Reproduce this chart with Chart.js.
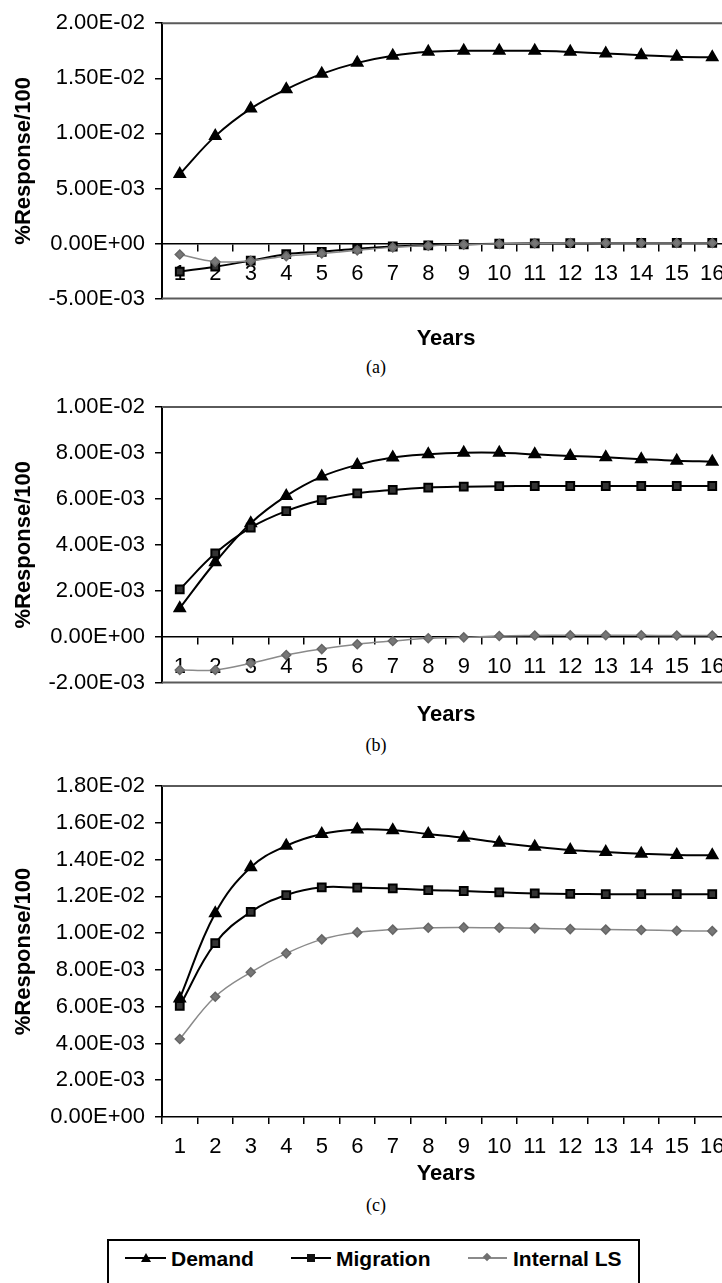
<!DOCTYPE html>
<html>
<head>
<meta charset="utf-8">
<script src="https://cdn.jsdelivr.net/npm/chart.js@4.4.1/dist/chart.umd.min.js"></script>
<style>
  html, body { margin: 0; padding: 0; background: #fff; }
  body { width: 722px; height: 1283px; overflow: hidden; position: relative; font-family: "Liberation Sans", Arial, sans-serif; }
  canvas { position: absolute; left: 0; }
  .cap { position: absolute; left: 0; width: 752px; text-align: center; font-family: "Liberation Serif", "Times New Roman", serif; font-size: 18px; line-height: 20px; color: #000; }
  #legend { position: absolute; left: 107px; top: 1239px; width: 533px; height: 70px; border: 2px solid #000; box-sizing: border-box; }
  .ln { position: absolute; height: 2px; background: #000; }
  .txt { position: absolute; top: 1247px; font-weight: bold; font-size: 21px; line-height: 24px; color: #000; }
</style>
</head>
<body>
<canvas id="chartA" width="740" height="352" style="top:0px"></canvas>
<canvas id="chartB" width="740" height="348" style="top:380px"></canvas>
<canvas id="chartC" width="740" height="427" style="top:760px"></canvas>

<div class="cap" style="top:357px">(a)</div>
<div class="cap" style="top:735px">(b)</div>
<div class="cap" style="top:1195px">(c)</div>

<div id="legend"></div>
<div class="ln" style="left:125px; top:1257px; width:41px"></div>
<div style="position:absolute; left:141px; top:1253px; width:0; height:0; border-left:5px solid transparent; border-right:5px solid transparent; border-bottom:9px solid #000"></div>
<div class="txt" style="left:171px">Demand</div>
<div class="ln" style="left:291px; top:1257px; width:40px"></div>
<div style="position:absolute; left:307px; top:1254px; width:8px; height:8px; background:#111"></div>
<div class="txt" style="left:336px">Migration</div>
<div class="ln" style="left:468px; top:1257px; width:39px; height:1.5px; background:#8a8a8a"></div>
<div style="position:absolute; left:484px; top:1254px; width:6px; height:6px; background:#707070; transform:rotate(45deg)"></div>
<div class="txt" style="left:513px">Internal LS</div>

<script>
  const years = ["1", "2", "3", "4", "5", "6", "7", "8", "9", "10", "11", "12", "13", "14", "15", "16"];

  // panel (a)
  const demandA = [0.0063, 0.00975, 0.01225, 0.0140, 0.0154, 0.0164, 0.01705, 0.0174, 0.0175, 0.0175, 0.0175, 0.0174, 0.01725, 0.0171, 0.01695, 0.0169];
  const migrationA = [-0.00255, -0.0021, -0.00156, -0.00097, -0.00075, -0.00047, -0.00027, -0.00016, -0.00008, -0.00002, 0.00002, 0.00003, 0.00004, 0.00005, 0.00005, 0.00005];
  const internalA = [-0.0010, -0.00165, -0.00156, -0.00115, -0.0009, -0.00062, -0.00035, -0.0002, -0.0001, -0.00003, 0.00002, 0.00004, 0.00004, 0.00005, 0.00005, 0.00005];

  // panel (b)
  const demandB = [0.00124, 0.00324, 0.00494, 0.00613, 0.00697, 0.00748, 0.0078, 0.00794, 0.00801, 0.00801, 0.00794, 0.00787, 0.00781, 0.00773, 0.00766, 0.00762];
  const migrationB = [0.00206, 0.00363, 0.00475, 0.00547, 0.00595, 0.00624, 0.00639, 0.00649, 0.00653, 0.00655, 0.00656, 0.00656, 0.00656, 0.00656, 0.00656, 0.00656];
  const internalB = [-0.00145, -0.00145, -0.00116, -0.0008, -0.00054, -0.00033, -0.00019, -0.00007, -0.00003, 0.00003, 0.00005, 0.00006, 0.00006, 0.00006, 0.00005, 0.00005];

  // panel (c)
  const demandC = [0.00645, 0.01108, 0.01358, 0.01475, 0.01539, 0.01564, 0.0156, 0.01539, 0.01519, 0.01492, 0.0147, 0.01452, 0.01441, 0.01432, 0.01425, 0.01423];
  const migrationC = [0.00604, 0.00945, 0.01115, 0.01207, 0.01249, 0.01247, 0.01243, 0.01234, 0.01229, 0.01222, 0.01216, 0.01213, 0.01212, 0.01212, 0.01212, 0.01212];
  const internalC = [0.00424, 0.00654, 0.00787, 0.0089, 0.00966, 0.01004, 0.01019, 0.01029, 0.01031, 0.01029, 0.01026, 0.01022, 0.01019, 0.01017, 0.01013, 0.01011];

  const FONT = '"Liberation Sans", Arial, sans-serif';

  // Excel style labels: 2.00E-02, 0.00E+00
  function sci(v) {
    const [m, e] = Number(v).toExponential(2).split("e");
    const n = Number(e);
    return m + "E" + (n < 0 ? "-" : "+") + String(Math.abs(n)).padStart(2, "0");
  }

  // top / right (and optional bottom) border of the plot box
  const frame = {
    id: "frame",
    beforeDatasetsDraw(chart, args, opts) {
      const { ctx, chartArea: a } = chart;
      ctx.save();
      ctx.strokeStyle = "#5a5a5a";
      ctx.lineWidth = 2;
      ctx.beginPath();
      ctx.moveTo(a.left, a.top);
      ctx.lineTo(a.right, a.top);
      ctx.lineTo(a.right, a.bottom);
      if (opts.bottom) ctx.lineTo(a.left, a.bottom);
      ctx.stroke();
      ctx.restore();
    }
  };

  function series(demand, migration, internal) {
    return [
      { label: "Demand", data: demand, order: 2, borderColor: "#000", backgroundColor: "#000", borderWidth: 2,
        pointStyle: "triangle", pointRadius: 6, pointBorderColor: "#000", pointBackgroundColor: "#000", tension: 0.4 },
      { label: "Migration", data: migration, order: 1, borderColor: "#000", backgroundColor: "#2a2a2a", borderWidth: 2,
        pointStyle: "rect", pointRadius: 5.5, pointBorderColor: "#000", pointBackgroundColor: "#333", tension: 0.4 },
      { label: "Internal LS", data: internal, order: 0, borderColor: "#8a8a8a", backgroundColor: "#707070", borderWidth: 1.5,
        pointStyle: "rectRot", pointRadius: 4.5, pointBorderColor: "#666", pointBackgroundColor: "#777", tension: 0.4 }
    ];
  }

  function makeChart(id, datasets, yMin, yMax, yStep, zeroAxis, padTop, titlePad) {
    const x = {
      type: "category",
      offset: true,
      position: zeroAxis ? { y: 0 } : "bottom",
      grid: { display: true, drawOnChartArea: false, drawTicks: true, tickLength: 7, offset: true, color: "#000", lineWidth: 1.5 },
      border: { display: true, color: "#000", width: 1.5 },
      ticks: { color: "#000", font: { family: FONT, size: 22 }, padding: 10, maxRotation: 0, autoSkip: false }
    };
    if (zeroAxis) {
      x.title = { display: false };
    } else {
      x.title = { display: true, text: "Years", color: "#000", font: { family: FONT, size: 22, weight: "bold" }, padding: 0 };
      x.afterFit = (s) => { s.height = 70; };
    }

    return new Chart(document.getElementById(id), {
      type: "line",
      data: { labels: years, datasets },
      options: {
        responsive: false,
        animation: false,
        layout: { padding: { top: padTop, right: 10, bottom: 0, left: 0 } },
        plugins: {
          legend: { display: false },
          tooltip: { enabled: false },
          frame: { bottom: zeroAxis },
          title: zeroAxis
            ? { display: true, text: "Years", position: "bottom", fullSize: false, color: "#000",
                font: { family: FONT, size: 22, weight: "bold" }, padding: { top: titlePad, bottom: 0 } }
            : { display: false }
        },
        scales: {
          x,
          y: {
            min: yMin, max: yMax,
            ticks: { stepSize: yStep, callback: sci, color: "#000", font: { family: FONT, size: 22 }, padding: 10 },
            grid: { drawOnChartArea: false, drawTicks: true, tickLength: 7, color: "#000", lineWidth: 1.5 },
            border: { display: true, color: "#000", width: 2 },
            title: { display: true, text: "%Response/100", color: "#000", font: { family: FONT, size: 22, weight: "bold" }, padding: { top: 11, bottom: 0 } },
            afterFit: (s) => { s.width = 162; }
          }
        }
      },
      plugins: [frame]
    });
  }

  makeChart("chartA", series(demandA, migrationA, internalA), -0.005, 0.02, 0.005, true, 16, 27);
  makeChart("chartB", series(demandB, migrationB, internalB), -0.002, 0.01, 0.002, true, 27, 19);
  makeChart("chartC", series(demandC, migrationC, internalC), 0, 0.018, 0.002, false, 26, 0);
</script>
</body>
</html>
